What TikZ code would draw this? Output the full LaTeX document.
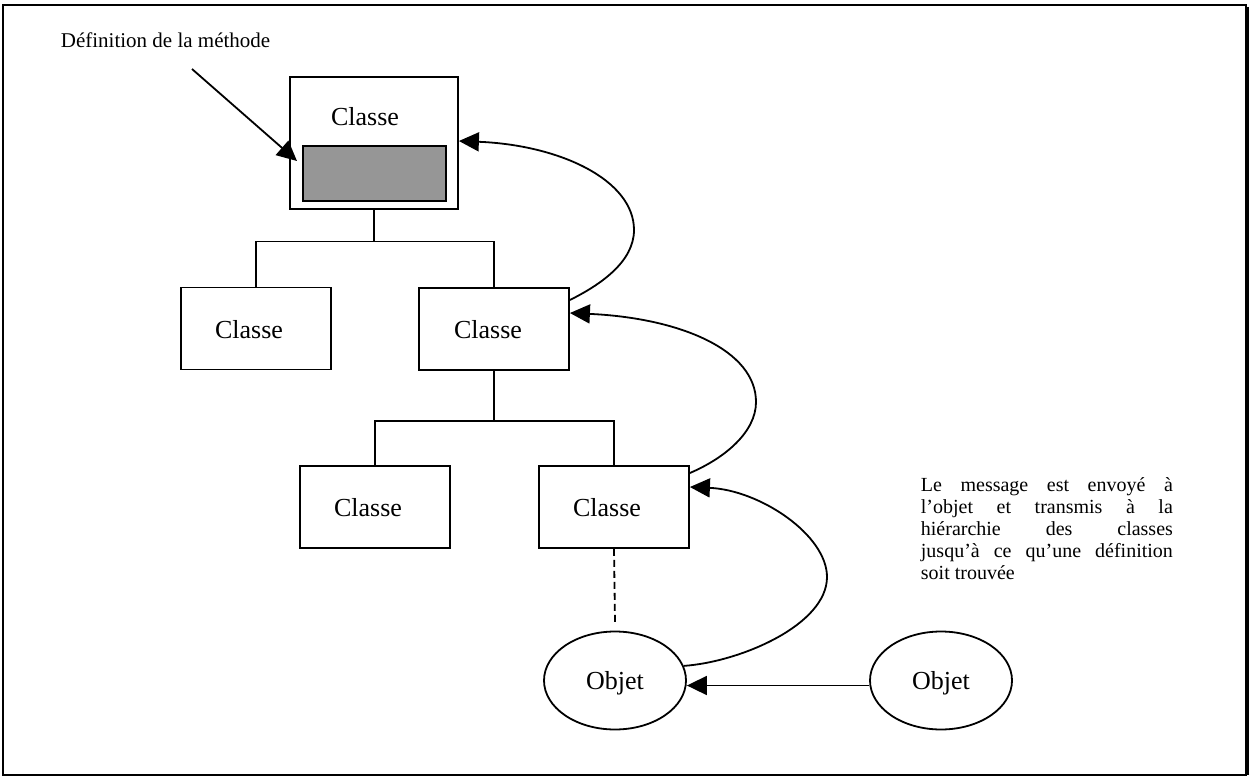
\documentclass[tikz,border=0pt]{standalone}
\usepackage{fontspec}
\setmainfont{Liberation Serif}
\usetikzlibrary{arrows.meta,shapes.geometric,calc}
\definecolor{methgray}{HTML}{969696}
\begin{document}
\begin{tikzpicture}[x=1pt,y=-1pt,
  line width=1.8pt,
  clsbox/.style={draw=black,minimum width=150pt,minimum height=82pt,inner sep=0pt},
  clstxt/.style={font=\fontsize{26}{30}\selectfont,inner sep=0pt,text height=17pt,text depth=0pt},
  objnode/.style={ellipse,draw=black,minimum width=142pt,minimum height=98pt,inner sep=0pt,
    font=\fontsize{26}{30}\selectfont,text height=17pt,text depth=0pt},
  arr/.style={-{Triangle[length=20pt,width=19pt]}}
]
\useasboundingbox (0,0) rectangle (1250,776);
% frame
\draw[line width=2pt] (3,5) rectangle (1246,775);
\draw[line width=4pt] (1247,7) -- (1247,775);

% top class with method
\node[draw=black,minimum width=168pt,minimum height=132pt,inner sep=0pt] (top) at (374,143) {};
\node[draw=black,fill=methgray,minimum width=143pt,minimum height=55pt,inner sep=0pt] (meth) at (374.5,173.5) {};
\node[clstxt] (ttop) at (365,116.5) {Classe};

% classes
\node[clsbox] (B1) at (256,328.5) {};
\node[clstxt] (t1) at (249,329.5) {Classe};
\node[clsbox] (B2) at (494,329) {};
\node[clstxt] (t2) at (488,330) {Classe};
\node[clsbox] (B3) at (375,507) {};
\node[clstxt] (t3) at (368,507.5) {Classe};
\node[clsbox] (B4) at (614,507) {};
\node[clstxt] (t4) at (607,507.5) {Classe};

% objects
\node[objnode] (O1) at (615,680.5) {Objet};
\node[objnode] (O2) at (941,680.5) {Objet};

% tree connectors
\coordinate (j1) at (374,241.5);
\draw (top.south) -- (j1);
\draw (B1.north) |- (j1) -| (B2.north);
\coordinate (j2) at (494,421);
\draw (B2.south) -- (j2);
\draw (B3.north) |- (j2) -| (B4.north);

% instance link
\draw[dash pattern=on 7pt off 4pt] (B4.south) -- ([yshift=8pt]O1.north);

% label and arrow
\node[anchor=base west,inner sep=0pt,font=\fontsize{21}{25}\selectfont] (deflbl) at (60,48) {Définition de la méthode};
\coordinate (defStart) at (192,69);
\coordinate (defTip) at (297,161);
\draw[arr] (defStart) -- (defTip);

% message arrows
\draw[arr] ([yshift=-5pt]O2.west) -- ([yshift=-5pt]O1.east);
\draw[arr] (O1.12) .. controls (740,662) and (827,625) .. (827,577)
   .. controls (827,535) and (760,490) .. ([yshift=20pt]B4.east);
\draw[arr] ([yshift=34pt]B4.east) .. controls (725,458) and (756,432) .. (756,402)
   .. controls (756,350) and (680,318) .. ([yshift=16pt]B2.east);
\draw[arr] ([yshift=29pt]B2.east) .. controls (600,285) and (634,262) .. (634,230)
   .. controls (634,180) and (560,145) .. ([yshift=2pt]top.east);

% explanation text
\node[anchor=north west,text width=252pt,align=justify,inner sep=0pt,
  font=\fontsize{20}{22}\selectfont] (msg) at (920,477)
  {\tolerance=10000 \hyphenpenalty=10000 Le message est envoyé à\linebreak l’objet et transmis à la\linebreak hiérarchie des classes\linebreak jusqu’à ce qu’une définition\linebreak soit trouvée};
\end{tikzpicture}
\end{document}
